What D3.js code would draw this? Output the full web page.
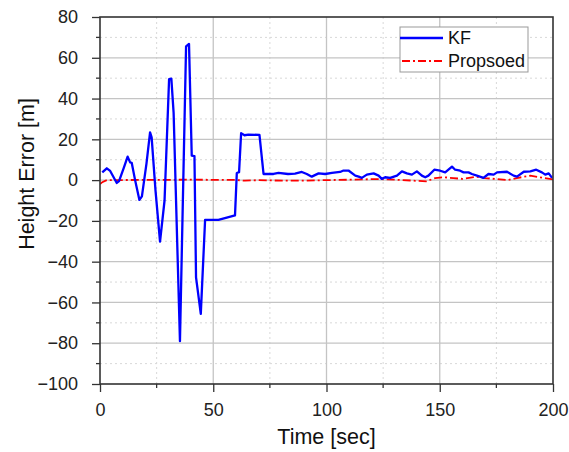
<!DOCTYPE html>
<html><head><meta charset="utf-8">
<script src="https://cdn.jsdelivr.net/npm/d3@7"></script>
<style>body{margin:0;background:#fff}</style>
</head><body>
<svg id="c" width="569" height="452"></svg>
<script>
const kfTime = [1,3,4.5,7.4,8.4,10.5,12.2,13.3,14,15.5,17.4,18.5,20.5,22.1,22.8,24.5,26.5,28.5,30.5,31.5,32.5,35.3,38,39.3,40.5,41.7,42.4,44.5,46.4,52.3,59.6,60.4,61.4,62.3,63.8,65.5,70.4,72.2,76.6,78.8,83,86.1,89.1,91.3,93.5,96.5,99.4,102.4,106,107.5,109.7,112.7,114.2,115.6,117.8,120.8,123,124.4,125.9,128.1,131.1,133.3,135.5,137.7,139.9,142.1,143.6,145,147.6,150.2,152.4,155.4,156.8,159,160.5,162.7,164.2,166.4,169.3,171.5,173.8,175.3,179.7,182.6,184.1,187.1,190,192.6,195.1,196.6,198.1,199.6];
const kfErr  = [3.8,5.8,4.5,-1.4,-0.5,6,11.5,8.7,8.5,0,-9.7,-8,8,23.4,21,-5,-30.2,-10,49.5,49.8,33,-79,65.6,66.8,12,11.8,-47.7,-65.6,-19.5,-19.5,-17.3,3.5,3.9,23,22,22.3,22.2,3,3,3.5,3,3.2,4,3,1.7,3.3,3,3.5,4,4.7,4.7,2.2,1.7,1.1,2.7,3.3,2.2,0.6,1.4,1.1,2.2,4.3,3.3,2.7,4.3,2.2,1.4,2.2,5.1,4.6,3.8,6.6,5.1,4.6,3.8,3.8,3,2.2,1.1,3,2.7,3.8,4.1,2.2,1.7,4.1,4.3,5.1,3.8,2.7,3.3,1.1];
const prTime = [0,1,3,20,40,60,64,70,81,91,100,110,121,127,137,144,148,152,156,160,166,170,175,180,184,187,190,193,196,200];
const prErr  = [-2,-1,0,0.1,0.2,0.1,-0.3,0,-0.3,-0.3,0,0.2,0.5,0.4,-0.2,-0.6,1,1.4,1,0.6,1.6,1,0.5,0,1,1.6,2.2,1.6,1,0.4];
const yTicks = [-100,-80,-60,-40,-20,0,20,40,60,80];
const xTicks = [0,50,100,150,200];
const seriesNames = ["KF","Propsoed"];

const svg = d3.select("#c");
const L=100,R=553,T=17,B=384;
const x = d3.scaleLinear().domain([0,200]).range([L,R]);
const y = d3.scaleLinear().domain([-100,80]).range([B,T]);
const font = "Arial, 'Liberation Sans', sans-serif";

const g = svg.append("g");
const xMinor = d3.range(25,200,50), yMinor = d3.range(-90,80,20);
g.selectAll(".gxm").data(xMinor).join("line").attr("x1",d=>x(d)).attr("x2",d=>x(d)).attr("y1",T).attr("y2",B)
 .attr("stroke","#d8d8d8").attr("stroke-width",1).attr("stroke-dasharray","2,3");
g.selectAll(".gym").data(yMinor).join("line").attr("y1",d=>y(d)).attr("y2",d=>y(d)).attr("x1",L).attr("x2",R)
 .attr("stroke","#d8d8d8").attr("stroke-width",1).attr("stroke-dasharray","2,3");
g.selectAll(".gx").data(xTicks.slice(1,-1)).join("line").attr("x1",d=>x(d)).attr("x2",d=>x(d)).attr("y1",T).attr("y2",B)
 .attr("stroke","#c4c4c4").attr("stroke-width",1.3);
g.selectAll(".gy").data(yTicks.slice(1,-1)).join("line").attr("y1",d=>y(d)).attr("y2",d=>y(d)).attr("x1",L).attr("x2",R)
 .attr("stroke","#c4c4c4").attr("stroke-width",1.3);

svg.append("clipPath").attr("id","cp").append("rect").attr("x",L).attr("y",T).attr("width",R-L).attr("height",B-T);
const line = d3.line().x(d=>x(d[0])).y(d=>y(d[1]));
svg.append("path").datum(prTime.map((t,i)=>[t,prErr[i]])).attr("d",line).attr("fill","none")
 .attr("stroke","#ff0000").attr("stroke-width",1.8).attr("stroke-dasharray","8,3,2,3").attr("clip-path","url(#cp)");
svg.append("path").datum(kfTime.map((t,i)=>[t,kfErr[i]])).attr("d",line).attr("fill","none")
 .attr("stroke","#0000ff").attr("stroke-width",2.3).attr("stroke-linejoin","round").attr("clip-path","url(#cp)");

const ax = svg.append("g").attr("transform",`translate(0,${B})`)
 .call(d3.axisBottom(x).tickValues(xTicks).tickSize(8).tickPadding(11).tickFormat(d3.format("d")));
const ay = svg.append("g").attr("transform",`translate(${L},0)`)
 .call(d3.axisLeft(y).tickValues(yTicks).tickSize(8).tickPadding(14).tickFormat(d3.format("d")));
svg.append("g").selectAll("line").data(xMinor).join("line").attr("x1",d=>x(d)).attr("x2",d=>x(d)).attr("y1",B).attr("y2",B+4)
 .attr("stroke","#333").attr("stroke-width",1.3);
svg.append("g").selectAll("line").data(yMinor).join("line").attr("y1",d=>y(d)).attr("y2",d=>y(d)).attr("x1",L-4).attr("x2",L)
 .attr("stroke","#333").attr("stroke-width",1.3);
[ax,ay].forEach(a=>{
  a.select(".domain").remove();
  a.selectAll(".tick line").attr("stroke","#333").attr("stroke-width",1.3);
  a.selectAll(".tick text").attr("font-family",font).attr("font-size","18px").attr("fill","#222");
});
svg.append("rect").attr("x",L).attr("y",T).attr("width",R-L).attr("height",B-T).attr("fill","none")
 .attr("stroke","#333").attr("stroke-width",1.6);

svg.append("text").attr("x",(L+R)/2).attr("y",444).attr("text-anchor","middle")
 .attr("font-family",font).attr("font-size","21.5px").attr("fill","#111").text("Time [sec]");
svg.append("text").attr("transform","translate(34,174) rotate(-90)").attr("text-anchor","middle")
 .attr("font-family",font).attr("font-size","21.5px").attr("fill","#111").text("Height Error [m]");

const lg = svg.append("g");
lg.append("rect").attr("x",400).attr("y",27).attr("width",128).attr("height",45).attr("fill","#fff").attr("stroke","#999").attr("stroke-width",1);
const ly=[38,61];
lg.append("line").attr("x1",400).attr("x2",443).attr("y1",ly[0]).attr("y2",ly[0]).attr("stroke","#0000ff").attr("stroke-width",2.3);
lg.append("line").attr("x1",402).attr("x2",443).attr("y1",ly[1]).attr("y2",ly[1]).attr("stroke","#ff0000").attr("stroke-width",1.8).attr("stroke-dasharray","8,3,2,3");
seriesNames.forEach((n,i)=>lg.append("text").attr("x",448).attr("y",ly[i]+6).attr("font-family",font).attr("font-size","18px").attr("fill","#111").text(n));
</script>
</body></html>
